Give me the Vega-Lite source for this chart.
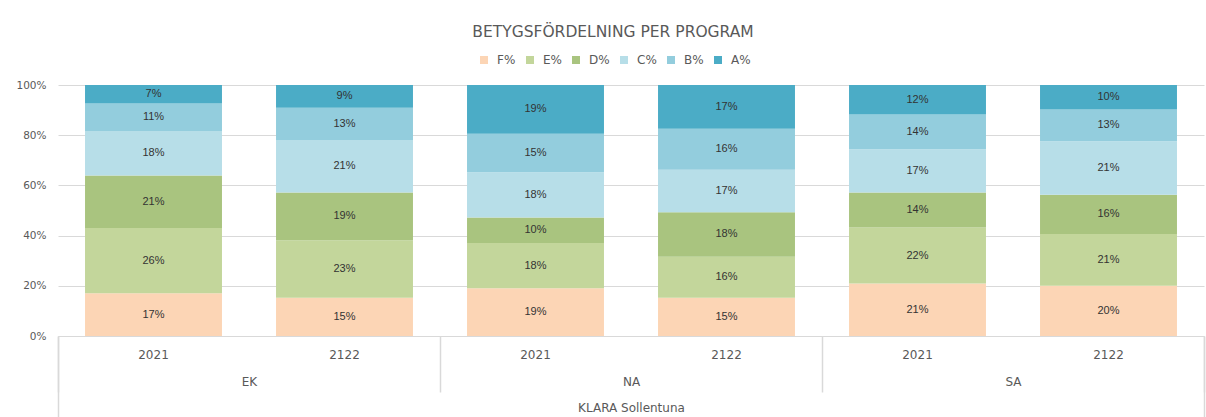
{
  "$schema": "https://vega.github.io/schema/vega-lite/v6.json",
  "width": 1146,
  "height": 251,
  "autosize": {"type": "none"},
  "padding": {"left": 58, "top": 85, "right": 2, "bottom": 81},
  "background": "white",
  "config": {
    "view": {"stroke": null},
    "font": "DejaVu Sans"
  },
  "title": {
    "text": "BETYGSFÖRDELNING PER PROGRAM",
    "font": "DejaVu Sans",
    "fontSize": 15.5,
    "fontWeight": "normal",
    "color": "#595959",
    "anchor": "middle",
    "dx": -18,
    "offset": 14
  },
  "data": {
    "values": [
      {"bar": "EK|2021", "program": "EK", "year": "2021", "grade": "F%", "ord": 1, "value": 0.170},
      {"bar": "EK|2021", "program": "EK", "year": "2021", "grade": "E%", "ord": 2, "value": 0.260},
      {"bar": "EK|2021", "program": "EK", "year": "2021", "grade": "D%", "ord": 3, "value": 0.209},
      {"bar": "EK|2021", "program": "EK", "year": "2021", "grade": "C%", "ord": 4, "value": 0.178},
      {"bar": "EK|2021", "program": "EK", "year": "2021", "grade": "B%", "ord": 5, "value": 0.109},
      {"bar": "EK|2021", "program": "EK", "year": "2021", "grade": "A%", "ord": 6, "value": 0.074},
      {"bar": "EK|2122", "program": "EK", "year": "2122", "grade": "F%", "ord": 1, "value": 0.152},
      {"bar": "EK|2122", "program": "EK", "year": "2122", "grade": "E%", "ord": 2, "value": 0.229},
      {"bar": "EK|2122", "program": "EK", "year": "2122", "grade": "D%", "ord": 3, "value": 0.191},
      {"bar": "EK|2122", "program": "EK", "year": "2122", "grade": "C%", "ord": 4, "value": 0.207},
      {"bar": "EK|2122", "program": "EK", "year": "2122", "grade": "B%", "ord": 5, "value": 0.130},
      {"bar": "EK|2122", "program": "EK", "year": "2122", "grade": "A%", "ord": 6, "value": 0.091},
      {"bar": "NA|2021", "program": "NA", "year": "2021", "grade": "F%", "ord": 1, "value": 0.190},
      {"bar": "NA|2021", "program": "NA", "year": "2021", "grade": "E%", "ord": 2, "value": 0.181},
      {"bar": "NA|2021", "program": "NA", "year": "2021", "grade": "D%", "ord": 3, "value": 0.101},
      {"bar": "NA|2021", "program": "NA", "year": "2021", "grade": "C%", "ord": 4, "value": 0.180},
      {"bar": "NA|2021", "program": "NA", "year": "2021", "grade": "B%", "ord": 5, "value": 0.154},
      {"bar": "NA|2021", "program": "NA", "year": "2021", "grade": "A%", "ord": 6, "value": 0.194},
      {"bar": "NA|2122", "program": "NA", "year": "2122", "grade": "F%", "ord": 1, "value": 0.152},
      {"bar": "NA|2122", "program": "NA", "year": "2122", "grade": "E%", "ord": 2, "value": 0.164},
      {"bar": "NA|2122", "program": "NA", "year": "2122", "grade": "D%", "ord": 3, "value": 0.177},
      {"bar": "NA|2122", "program": "NA", "year": "2122", "grade": "C%", "ord": 4, "value": 0.169},
      {"bar": "NA|2122", "program": "NA", "year": "2122", "grade": "B%", "ord": 5, "value": 0.164},
      {"bar": "NA|2122", "program": "NA", "year": "2122", "grade": "A%", "ord": 6, "value": 0.174},
      {"bar": "SA|2021", "program": "SA", "year": "2021", "grade": "F%", "ord": 1, "value": 0.209},
      {"bar": "SA|2021", "program": "SA", "year": "2021", "grade": "E%", "ord": 2, "value": 0.223},
      {"bar": "SA|2021", "program": "SA", "year": "2021", "grade": "D%", "ord": 3, "value": 0.140},
      {"bar": "SA|2021", "program": "SA", "year": "2021", "grade": "C%", "ord": 4, "value": 0.172},
      {"bar": "SA|2021", "program": "SA", "year": "2021", "grade": "B%", "ord": 5, "value": 0.138},
      {"bar": "SA|2021", "program": "SA", "year": "2021", "grade": "A%", "ord": 6, "value": 0.118},
      {"bar": "SA|2122", "program": "SA", "year": "2122", "grade": "F%", "ord": 1, "value": 0.200},
      {"bar": "SA|2122", "program": "SA", "year": "2122", "grade": "E%", "ord": 2, "value": 0.206},
      {"bar": "SA|2122", "program": "SA", "year": "2122", "grade": "D%", "ord": 3, "value": 0.157},
      {"bar": "SA|2122", "program": "SA", "year": "2122", "grade": "C%", "ord": 4, "value": 0.213},
      {"bar": "SA|2122", "program": "SA", "year": "2122", "grade": "B%", "ord": 5, "value": 0.126},
      {"bar": "SA|2122", "program": "SA", "year": "2122", "grade": "A%", "ord": 6, "value": 0.098}
    ]
  },
  "layer": [
    {
      "encoding": {
        "x": {
          "field": "bar",
          "type": "nominal",
          "sort": null,
          "scale": {"paddingInner": 0, "paddingOuter": 0},
          "axis": {
            "orient": "bottom",
            "title": null,
            "labelExpr": "split(datum.value, '|')[1]",
            "labelAngle": 0,
            "ticks": false,
            "tickSize": 0,
            "labelPadding": 13,
            "labelFont": "DejaVu Sans",
            "labelFontSize": 12,
            "labelColor": "#595959",
            "domainColor": "#D9D9D9",
            "domainWidth": 1
          }
        },
        "y": {
          "field": "value",
          "type": "quantitative",
          "stack": "zero",
          "scale": {"domain": [0, 1], "nice": false},
          "axis": {
            "title": null,
            "format": ".0%",
            "values": [0, 0.2, 0.4, 0.6, 0.8, 1],
            "domain": false,
            "ticks": false,
            "labelPadding": 12,
            "labelFont": "DejaVu Sans",
            "labelFontSize": 10.5,
            "labelColor": "#595959",
            "gridColor": "#D9D9D9",
            "gridWidth": 1
          }
        },
        "order": {"field": "ord", "type": "quantitative"}
      },
      "layer": [
        {
          "mark": {"type": "bar", "width": {"band": 0.717}},
          "encoding": {
            "color": {
              "field": "grade",
              "type": "nominal",
              "scale": {
                "domain": ["F%", "E%", "D%", "C%", "B%", "A%"],
                "range": ["#FCD5B5", "#C3D69B", "#A9C47F", "#B7DEE8", "#93CDDD", "#4BACC6"]
              },
              "legend": {
                "title": null,
                "orient": "none",
                "direction": "horizontal",
                "legendX": 420,
                "legendY": -31,
                "symbolType": "square",
                "symbolSize": 64,
                "symbolStrokeWidth": 0,
                "labelFont": "DejaVu Sans",
                "labelFontSize": 12,
                "labelColor": "#595959",
                "columnPadding": 8,
                "labelOffset": 7
              }
            }
          }
        },
        {
          "mark": {"type": "text", "font": "Liberation Sans", "fontSize": 11, "color": "#333333", "baseline": "middle"},
          "encoding": {
            "y": {"field": "value", "type": "quantitative", "stack": "zero", "bandPosition": 0.5},
            "detail": {"field": "grade"},
            "text": {"field": "value", "type": "quantitative", "format": ".0%"}
          }
        }
      ]
    },
    {
      "mark": {"type": "tick", "opacity": 0},
      "encoding": {
        "x": {
          "field": "program",
          "type": "nominal",
          "scale": {"paddingInner": 0, "paddingOuter": 0},
          "axis": {
            "orient": "bottom",
            "title": null,
            "labelAngle": 0,
            "domain": false,
            "ticks": true,
            "tickBand": "extent",
            "tickSize": 56,
            "tickColor": "#D9D9D9",
            "tickWidth": 1.5,
            "labelPadding": -16,
            "labelFont": "DejaVu Sans",
            "labelFontSize": 12,
            "labelColor": "#595959"
          }
        }
      }
    },
    {
      "mark": {"type": "tick", "opacity": 0},
      "encoding": {
        "x": {
          "datum": "KLARA Sollentuna",
          "type": "nominal",
          "scale": {"paddingInner": 0, "paddingOuter": 0},
          "axis": {
            "orient": "bottom",
            "title": null,
            "labelAngle": 0,
            "domain": false,
            "ticks": true,
            "tickBand": "extent",
            "tickSize": 90,
            "tickColor": "#D9D9D9",
            "tickWidth": 1.5,
            "labelPadding": -24,
            "labelFont": "DejaVu Sans",
            "labelFontSize": 12,
            "labelColor": "#595959"
          }
        }
      }
    }
  ],
  "resolve": {"scale": {"x": "independent"}, "axis": {"x": "independent"}}
}
